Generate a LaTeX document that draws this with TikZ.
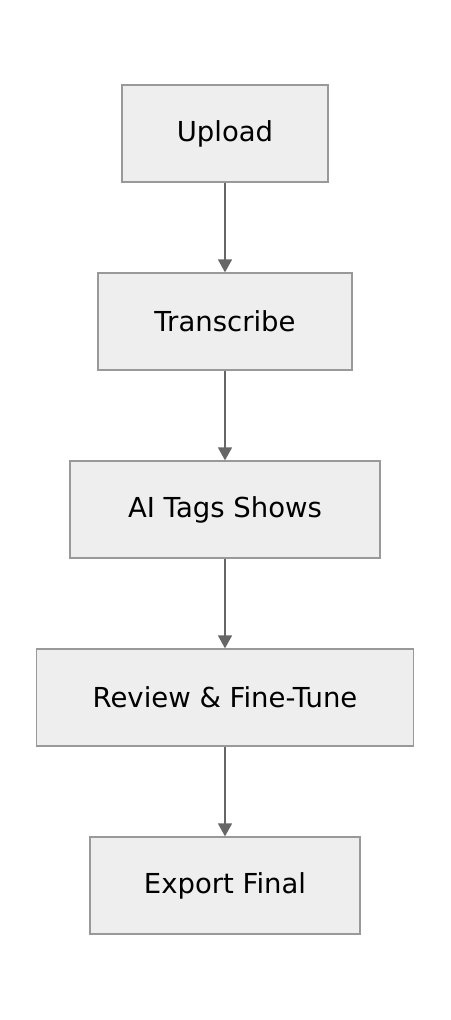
\documentclass[tikz,border=0pt]{standalone}
\usepackage{fontspec}
\setmainfont{DejaVu Sans}
\usetikzlibrary{arrows.meta}
\definecolor{boxfill}{HTML}{EEEEEE}
\definecolor{boxline}{HTML}{999999}
\definecolor{arrowline}{HTML}{666666}
\begin{document}
\begin{tikzpicture}[x=1pt, y=-1pt,
  stepbox/.style={draw=boxline, fill=boxfill, line width=1.3pt, minimum height=97pt, inner sep=0pt, font=\fontsize{27.5}{32}\selectfont},
  flow/.style={draw=arrowline, line width=1.6pt, -{Triangle[length=13pt, width=14pt]}}]
\useasboundingbox (0,0) rectangle (450,1020);
\node[stepbox, minimum width=206pt] (Upload) at (225,133.5) {Upload};
\node[stepbox, minimum width=254pt] (Transcribe) at (225,321.5) {Transcribe};
\node[stepbox, minimum width=310pt] (AITags) at (225,509.5) {AI Tags Shows};
\node[stepbox, minimum width=377pt] (Review) at (225,697.5) {Review \& Fine-Tune};
\node[stepbox, minimum width=270pt] (Export) at (225,885.5) {Export Final};
\draw[flow] (Upload) -- (Transcribe);
\draw[flow] (Transcribe) -- (AITags);
\draw[flow] (AITags) -- (Review);
\draw[flow] (Review) -- (Export);
\end{tikzpicture}
\end{document}
